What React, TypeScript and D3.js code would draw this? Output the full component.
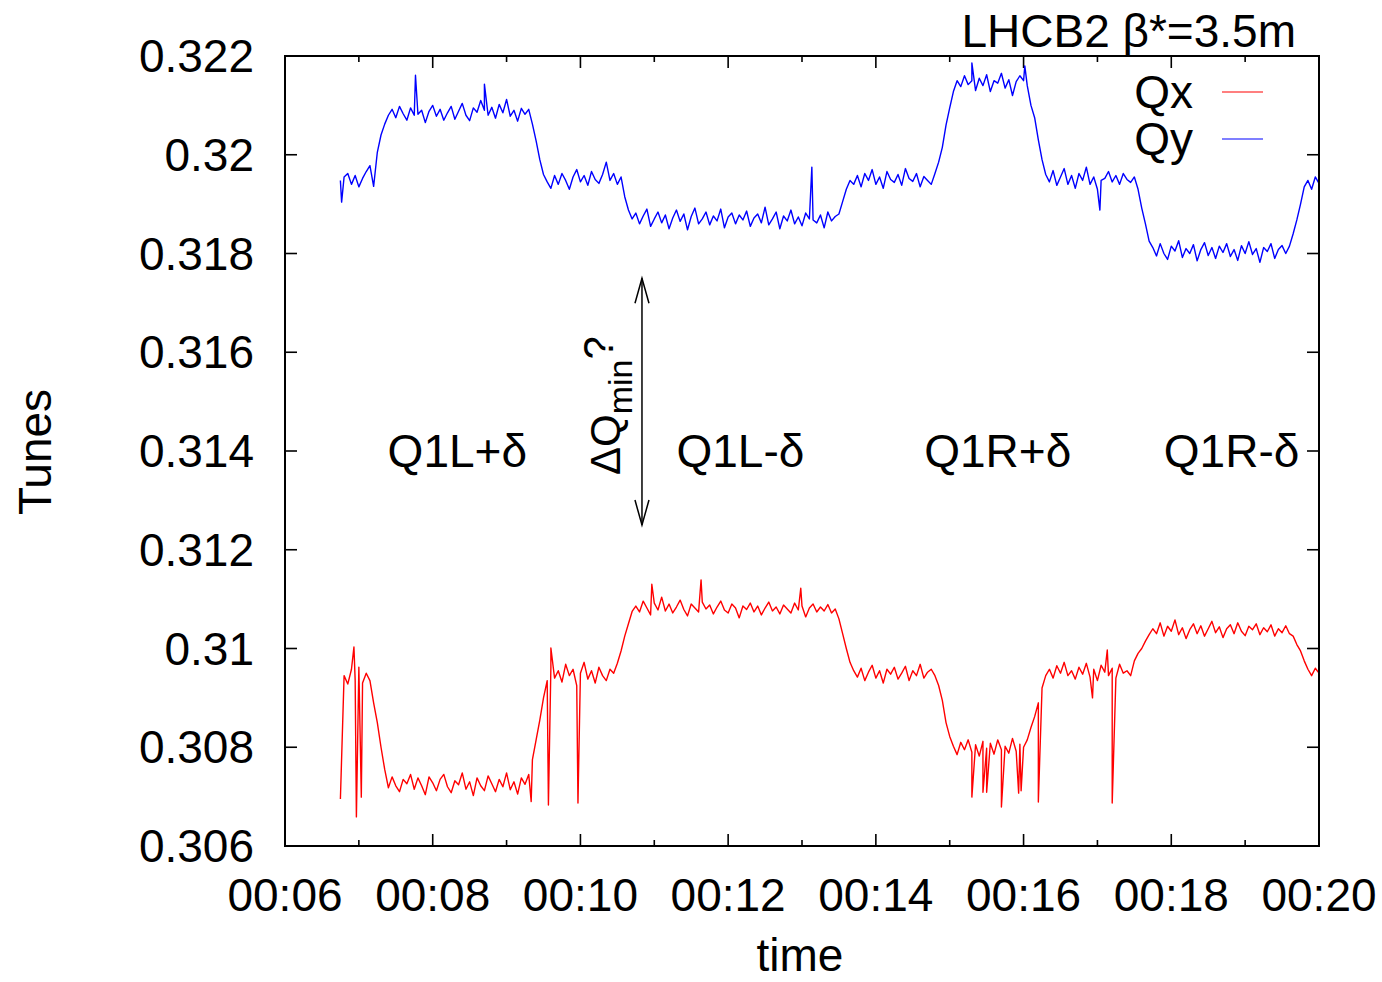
import React from "react";
import * as d3 from "d3";

// Tune measurements, sampled every 3 s starting at 00:06:45
const sampleStartSec = 405;
const sampleStepSec = 3;

const qxValues = [
  .30695, .30945, .30928, .30958, .30936, .30962, .30930, .30950, .30935, .30890,
  .30850, .30800, .30755, .30718, .30740, .30722, .30710, .30735, .30726, .30745,
  .30715, .30738, .30722, .30704, .30740, .30728, .30712, .30735, .30745, .30720,
  .30708, .30732, .30724, .30748, .30715, .30730, .30702, .30738, .30722, .30712,
  .30742, .30726, .30710, .30735, .30720, .30748, .30714, .30730, .30705, .30738,
  .30725, .30745, .30775, .30815, .30855, .30900, .30935, .30962, .30940, .30955,
  .30932, .30968, .30945, .30958, .30925, .30950, .30972, .30938, .30955, .30930,
  .30962, .30945, .30935, .30958, .30950, .30970, .30995, .31025, .31050, .31075,
  .31086, .31074, .31096, .31082, .31068, .31092, .31078, .31104, .31076, .31090,
  .31072, .31084, .31098, .31079, .31066, .31090, .31082, .31074, .31094, .31080,
  .31088, .31070, .31084, .31096, .31078, .31072, .31090, .31082, .31062, .31086,
  .31079, .31092, .31074, .31086, .31068, .31082, .31094, .31076, .31084, .31070,
  .31088, .31080, .31072, .31092, .31078, .31086, .31064, .31082, .31090, .31074,
  .31084, .31076, .31089, .31072, .31080, .31060, .31030, .31000, .30972, .30955,
  .30942, .30960, .30935, .30952, .30966, .30940, .30955, .30930, .30958, .30948,
  .30962, .30938, .30950, .30964, .30935, .30955, .30945, .30968, .30940, .30952,
  .30958, .30945, .30925, .30895, .30850, .30822, .30802, .30785, .30810, .30795,
  .30815, .30790, .30805, .30782, .30812, .30798, .30808, .30786, .30815, .30795,
  .30802, .30788, .30818, .30792, .30806, .30800, .30815, .30840, .30862, .30890,
  .30920, .30945, .30958, .30940, .30965, .30950, .30972, .30945, .30955, .30938,
  .30962, .30948, .30970, .30942, .30958, .30935, .30966, .30952, .30945, .30960,
  .30940, .30968, .30950, .30955, .30945, .30975, .30990, .31000, .31015, .31028,
  .31040, .31030, .31052, .31025, .31045, .31035, .31058, .31028, .31042, .31020,
  .31038, .31050, .31030, .31046, .31025, .31040, .31055, .31032, .31044, .31022,
  .31040, .31048, .31030, .31052, .31035, .31026, .31045, .31038, .31050, .31028,
  .31042, .31034, .31048, .31025, .31040, .31032, .31046, .31030, .31025, .31008,
  .30995, .30975, .30958, .30945, .30960, .30950,
];

const qyValues = [
  .31948, .31955, .31962, .31940, .31958, .31935, .31952, .31966, .31978, .31936,
  .32005, .32040, .32062, .32080, .32092, .32075, .32098, .32083, .32070, .32095,
  .32080, .32082, .32090, .32065, .32088, .32100, .32078, .32092, .32070, .32085,
  .32098, .32072, .32088, .32104, .32080, .32069, .32095, .32086, .32110, .32090,
  .32080, .32096, .32074, .32102, .32085, .32112, .32078, .32090, .32068, .32094,
  .32082, .32092, .32062, .32028, .31990, .31960, .31945, .31932, .31958, .31940,
  .31962, .31948, .31930, .31955, .31970, .31945, .31958, .31938, .31966, .31950,
  .31942, .31960, .31985, .31948, .31962, .31940, .31955, .31915, .31888, .31870,
  .31882, .31860, .31876, .31890, .31855, .31870, .31884, .31862, .31878, .31850,
  .31872, .31888, .31865, .31880, .31848, .31875, .31892, .31860, .31870, .31884,
  .31858, .31876, .31866, .31890, .31852, .31874, .31882, .31860, .31878, .31868,
  .31886, .31855, .31872, .31880, .31862, .31894, .31858, .31870, .31884, .31850,
  .31876, .31866, .31888, .31860, .31874, .31856, .31882, .31870, .31868, .31862,
  .31878, .31852, .31884, .31866, .31875, .31880, .31905, .31930, .31948, .31940,
  .31958, .31935, .31962, .31948, .31970, .31940, .31955, .31932, .31966, .31950,
  .31944, .31960, .31938, .31972, .31952, .31946, .31962, .31935, .31956, .31948,
  .31940, .31962, .31985, .32015, .32060, .32095, .32128, .32150, .32138, .32160,
  .32142, .32150, .32130, .32155, .32140, .32162, .32128, .32150, .32145, .32165,
  .32135, .32152, .32120, .32148, .32160, .32150, .32140, .32100, .32075, .32030,
  .31990, .31960, .31945, .31968, .31938, .31955, .31972, .31940, .31958, .31932,
  .31962, .31948, .31975, .31940, .31955, .31930, .31948, .31952, .31966, .31945,
  .31958, .31940, .31962, .31950, .31944, .31955, .31930, .31892, .31860, .31825,
  .31812, .31795, .31820, .31800, .31788, .31815, .31805, .31826, .31792, .31810,
  .31800, .31818, .31785, .31808, .31822, .31796, .31812, .31790, .31815, .31802,
  .31820, .31794, .31808, .31786, .31816, .31800, .31824, .31798, .31810, .31782,
  .31812, .31804, .31820, .31790, .31808, .31816, .31800, .31815, .31840, .31868,
  .31900, .31935, .31948, .31930, .31955, .31942,
];

// Isolated outliers between regular samples: [seconds, tune]
const qxSpikes: [number, number][] = [
  [416.5, .31003], [418.5, .30659], [422.7, .30699], [560.7, .30690],
  [574.5, .30683], [576.9, .31001], [598.0, .30687], [658.1, .31130],
  [698.8, .31139], [779.2, .31122], [918.9, .30699], [927.0, .30709],
  [930.3, .30709], [942.5, .30679], [956.3, .30707], [958.7, .30712],
  [972.5, .30689], [1016.4, .30900], [1028.6, .30997], [1032.6, .30687],
];
const qySpikes: [number, number][] = [
  [406.3, .31904], [466.4, .32161], [522.5, .32143], [788.1, .31975],
  [918.1, .32186], [961.2, .32180], [1022.9, .31888],
];

// Axis ticks
const yTicks = [0.306, 0.308, 0.31, 0.312, 0.314, 0.316, 0.318, 0.32, 0.322];
const yTickLabels = ["0.306", "0.308", "0.31", "0.312", "0.314", "0.316", "0.318", "0.32", "0.322"];
const xDomainSec = [360, 1200];

// Knob settings labels: [seconds, tune, text]
const phaseLabels: [number, number, string][] = [
  [500, 0.314, "Q1L+\u03b4"],
  [730, 0.314, "Q1L-\u03b4"],
  [939, 0.314, "Q1R+\u03b4"],
  [1129, 0.314, "Q1R-\u03b4"],
];
const arrowSec = 650;
const arrowRange = [0.3125, 0.3175];

const FONT = "'Liberation Sans', Arial, Helvetica, sans-serif";
const W = 1382;
const H = 982;
const M = { left: 285, right: 1319, top: 56, bottom: 846 };

const toDate = (s: number) => new Date(Date.UTC(2012, 0, 1, 0, 0, s));

function buildSeries(values: number[], spikes: [number, number][]) {
  const pts: [number, number][] = values.map((v, i) => [sampleStartSec + sampleStepSec * i, v]);
  return pts.concat(spikes).sort((a, b) => a[0] - b[0]);
}

export default function App() {
  const x = d3.scaleUtc().domain(xDomainSec.map(toDate)).range([M.left, M.right]);
  const y = d3.scaleLinear().domain([0.306, 0.322]).range([M.bottom, M.top]);

  const line = d3
    .line<[number, number]>()
    .x((d) => x(toDate(d[0])))
    .y((d) => y(d[1]));

  const qx = buildSeries(qxValues, qxSpikes);
  const qy = buildSeries(qyValues, qySpikes);

  const majorX = x.ticks(d3.utcMinute.every(2)!);
  const minorX = x.ticks(d3.utcMinute.every(1)!).filter((d) => d.getUTCMinutes() % 2 === 1);
  const fmt = d3.utcFormat("%H:%M");

  const fs = 46;
  const ax = x(toDate(arrowSec));
  const ay1 = y(arrowRange[1]);
  const ay0 = y(arrowRange[0]);

  return (
    <svg
      width={W}
      height={H}
      style={{ position: "absolute", left: 0, top: 0, background: "#fff" }}
      fontFamily={FONT}
    >
      <defs>
        <clipPath id="plotClip">
          <rect x={M.left} y={M.top} width={M.right - M.left} height={M.bottom - M.top} />
        </clipPath>
      </defs>

      {/* ticks, mirrored on opposite sides */}
      <g stroke="#000" strokeWidth={1.6}>
        {yTicks.map((t) => (
          <g key={"yt" + t}>
            <line x1={M.left} x2={M.left + 12} y1={y(t)} y2={y(t)} />
            <line x1={M.right} x2={M.right - 12} y1={y(t)} y2={y(t)} />
          </g>
        ))}
        {majorX.map((d) => (
          <g key={"xt" + +d}>
            <line x1={x(d)} x2={x(d)} y1={M.bottom} y2={M.bottom - 12} />
            <line x1={x(d)} x2={x(d)} y1={M.top} y2={M.top + 12} />
          </g>
        ))}
        {minorX.map((d) => (
          <g key={"xm" + +d}>
            <line x1={x(d)} x2={x(d)} y1={M.bottom} y2={M.bottom - 6} />
            <line x1={x(d)} x2={x(d)} y1={M.top} y2={M.top + 6} />
          </g>
        ))}
      </g>

      {/* data */}
      <g clipPath="url(#plotClip)" fill="none" strokeWidth={1.4} strokeLinejoin="round">
        <path d={line(qx) || ""} stroke="#ff0000" />
        <path d={line(qy) || ""} stroke="#0000ff" />
      </g>

      {/* frame */}
      <rect
        x={M.left}
        y={M.top}
        width={M.right - M.left}
        height={M.bottom - M.top}
        fill="none"
        stroke="#000"
        strokeWidth={2}
      />

      {/* tick labels */}
      <g fontSize={fs} fill="#000">
        {yTicks.map((t, i) => (
          <text key={"yl" + t} x={254} y={y(t) + 16} textAnchor="end">
            {yTickLabels[i]}
          </text>
        ))}
        {majorX.map((d) => (
          <text key={"xl" + +d} x={x(d)} y={911} textAnchor="middle">
            {fmt(d)}
          </text>
        ))}
      </g>

      {/* axis titles */}
      <text x={800} y={971} fontSize={fs} textAnchor="middle">
        time
      </text>
      <text transform={`translate(51,452) rotate(-90)`} fontSize={fs} textAnchor="middle">
        Tunes
      </text>
      <text x={1296} y={47} fontSize={fs} textAnchor="end">
        LHCB2 {"\u03b2"}*=3.5m
      </text>

      {/* legend */}
      <g fontSize={fs}>
        <text x={1193} y={108} textAnchor="end">Qx</text>
        <line x1={1222} x2={1263} y1={92} y2={92} stroke="#ff0000" strokeWidth={1.2} />
        <text x={1193} y={155} textAnchor="end">Qy</text>
        <line x1={1222} x2={1263} y1={139} y2={139} stroke="#0000ff" strokeWidth={1.2} />
      </g>

      {/* phase labels */}
      <g fontSize={fs}>
        {phaseLabels.map(([s, v, t]) => (
          <text key={t} x={x(toDate(s))} y={y(v) + 16} textAnchor="middle">
            {t}
          </text>
        ))}
      </g>

      {/* coupling arrow */}
      <g stroke="#000" strokeWidth={1.5} fill="none">
        <line x1={ax} x2={ax} y1={ay1} y2={ay0} />
        <polyline points={`${ax - 7},${ay1 + 25} ${ax},${ay1} ${ax + 7},${ay1 + 25}`} />
        <polyline points={`${ax - 7},${ay0 - 25} ${ax},${ay0} ${ax + 7},${ay0 - 25}`} />
      </g>
      <text transform={`translate(620,475) rotate(-90)`} fontSize={42}>
        {"\u0394"}Q
        <tspan fontSize={34} dy={12}>min</tspan>
        <tspan dy={-19}>?</tspan>
      </text>
    </svg>
  );
}
